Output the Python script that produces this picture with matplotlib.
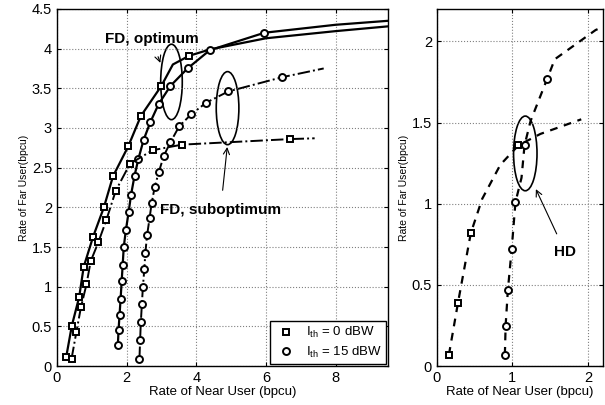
import numpy as np
import matplotlib.pyplot as plt
from matplotlib.patches import Ellipse

plt.rcParams['font.family'] = ['Liberation Sans', 'DejaVu Sans']
plt.rcParams['mathtext.fontset'] = 'custom'
plt.rcParams['mathtext.rm'] = 'Liberation Sans'

# FD, optimum, I_th = 0 dBW (squares) -- last points carry no marker
near_sq_opt = [0.27, 0.43, 0.64, 0.77, 1.04, 1.35, 1.61, 2.05, 2.41, 3.0, 3.33, 3.8, 4.4, 6.0, 8.0, 9.5]
far_sq_opt = [0.12, 0.51, 0.87, 1.25, 1.63, 2.0, 2.39, 2.77, 3.15, 3.53, 3.80, 3.91, 3.99, 4.13, 4.22, 4.28]
mark_sq_opt = [0, 1, 2, 3, 4, 5, 6, 7, 8, 9, 11]

# FD, optimum, I_th = 15 dBW (circles)
near_ci_opt = [1.75, 1.77, 1.80, 1.83, 1.86, 1.89, 1.92, 1.98, 2.06, 2.13, 2.23, 2.34, 2.49,
               2.68, 2.92, 3.26, 3.75, 4.39, 5.96, 8.0, 9.5]
far_ci_opt = [0.26, 0.45, 0.65, 0.85, 1.07, 1.28, 1.50, 1.71, 1.94, 2.16, 2.40, 2.61, 2.85,
              3.07, 3.30, 3.53, 3.75, 3.98, 4.20, 4.30, 4.35]
mark_ci_opt = list(range(19))

# FD, suboptimum, I_th = 0 dBW
near_sq_sub = [0.42, 0.56, 0.69, 0.85, 0.97, 1.19, 1.42, 1.69, 2.10, 2.75, 3.59, 6.69, 7.4]
far_sq_sub = [0.09, 0.43, 0.74, 1.03, 1.32, 1.56, 1.84, 2.21, 2.55, 2.72, 2.79, 2.86, 2.87]
mark_sq_sub = list(range(12))

# FD, suboptimum, I_th = 15 dBW
near_ci_sub = [2.37, 2.39, 2.41, 2.44, 2.47, 2.51, 2.54, 2.59, 2.66, 2.72, 2.81, 2.93, 3.07,
               3.26, 3.51, 3.85, 4.29, 4.92, 6.47, 7.66]
far_ci_sub = [0.09, 0.33, 0.55, 0.78, 1.00, 1.22, 1.43, 1.65, 1.86, 2.05, 2.26, 2.45, 2.65,
              2.82, 3.02, 3.17, 3.32, 3.46, 3.64, 3.75]
mark_ci_sub = list(range(19))

# HD
near_sq_hd = [0.16, 0.28, 0.45, 0.60, 0.84, 1.08, 1.37, 1.91]
far_sq_hd = [0.07, 0.39, 0.82, 1.03, 1.24, 1.36, 1.43, 1.52]
mark_sq_hd = [0, 1, 2, 5]

near_ci_hd = [0.90, 0.91, 0.94, 0.99, 1.04, 1.12, 1.16, 1.24, 1.46, 1.56, 1.77, 2.1, 2.2]
far_ci_hd = [0.07, 0.25, 0.47, 0.72, 1.01, 1.16, 1.36, 1.51, 1.77, 1.89, 1.96, 2.07, 2.09]
mark_ci_hd = [0, 1, 2, 3, 4, 6, 8]

fig = plt.figure(figsize=(6.05, 4.05), dpi=100)
ax1 = fig.add_axes([0.094, 0.096, 0.547, 0.882])
ax2 = fig.add_axes([0.722, 0.096, 0.275, 0.882])

sq = dict(marker='s', ms=4, mfc='white', mec='black', mew=1.4, color='black')
ci = dict(marker='o', ms=5, mfc='white', mec='black', mew=1.4, color='black')

ax1.plot(near_sq_opt, far_sq_opt, '-', lw=1.6, markevery=mark_sq_opt, **sq)
ax1.plot(near_ci_opt, far_ci_opt, '-', lw=1.6, markevery=mark_ci_opt, **ci)
ax1.plot(near_sq_sub, far_sq_sub, '-.', lw=1.4, markevery=mark_sq_sub, **sq)
ax1.plot(near_ci_sub, far_ci_sub, '-.', lw=1.4, markevery=mark_ci_sub, **ci)

ax2.plot(near_sq_hd, far_sq_hd, '--', lw=1.6, dashes=(3.5, 3), markevery=mark_sq_hd, **sq)
ax2.plot(near_ci_hd, far_ci_hd, '--', lw=1.6, dashes=(3.5, 3), markevery=mark_ci_hd, **ci)

# legend (markers only)
h1, = ax1.plot([], [], ls='none', **sq)
h2, = ax1.plot([], [], ls='none', **ci)
leg = ax1.legend([h1, h2], [r'$\mathregular{I_{th}}$ = 0 dBW', r'$\mathregular{I_{th}}$ = 15 dBW'],
                 loc='lower right', fontsize=9.5, fancybox=False, framealpha=1,
                 edgecolor='black', borderaxespad=0.15, handlelength=1.8, labelspacing=0.35,
                 borderpad=0.3, handletextpad=0.6)
leg.get_frame().set_linewidth(1.0)

# annotations
ax1.add_patch(Ellipse((3.29, 3.58), 0.62, 0.95, fill=False, lw=1.2))
ax1.add_patch(Ellipse((4.9, 3.25), 0.65, 0.92, fill=False, lw=1.2))
ax1.annotate('FD, optimum', xy=(2.97, 3.82), xytext=(2.72, 4.12), ha='center', va='center',
             fontsize=11, fontweight='bold',
             arrowprops=dict(arrowstyle='->', lw=0.8, shrinkA=6, shrinkB=0))
ax1.annotate('FD, suboptimum', xy=(4.89, 2.76), xytext=(4.7, 1.97), ha='center', va='center',
             fontsize=11, fontweight='bold',
             arrowprops=dict(arrowstyle='->', lw=0.8, shrinkA=7, shrinkB=0))
ax2.add_patch(Ellipse((1.17, 1.31), 0.31, 0.46, fill=False, lw=1.2))
ax2.annotate('HD', xy=(1.31, 1.09), xytext=(1.7, 0.70), ha='center', va='center',
             fontsize=11, fontweight='bold',
             arrowprops=dict(arrowstyle='->', lw=0.8, shrinkA=7, shrinkB=0))

ax1.set_xlim(0, 9.5)
ax1.set_ylim(0, 4.5)
ax1.set_xticks([0, 2, 4, 6, 8])
ax1.set_yticks(np.arange(0, 4.51, 0.5))
ax1.set_yticklabels(['0', '0.5', '1', '1.5', '2', '2.5', '3', '3.5', '4', '4.5'])

ax2.set_xlim(0, 2.2)
ax2.set_ylim(0, 2.2)
ax2.set_xticks([0, 1, 2])
ax2.set_yticks([0, 0.5, 1, 1.5, 2])
ax2.set_yticklabels(['0', '0.5', '1', '1.5', '2'])

for ax in (ax1, ax2):
    ax.grid(True, ls=':', color='gray', lw=0.8)
    ax.tick_params(direction='in', top=True, right=True, labelsize=10.5, length=3)
    ax.set_xlabel('Rate of Near User (bpcu)', fontsize=9.5, labelpad=1)
    ax.set_ylabel('Rate of Far User(bpcu)', fontsize=7.5, labelpad=2)
    for s in ax.spines.values():
        s.set_linewidth(1.0)

fig.savefig('out.png', dpi=100)
